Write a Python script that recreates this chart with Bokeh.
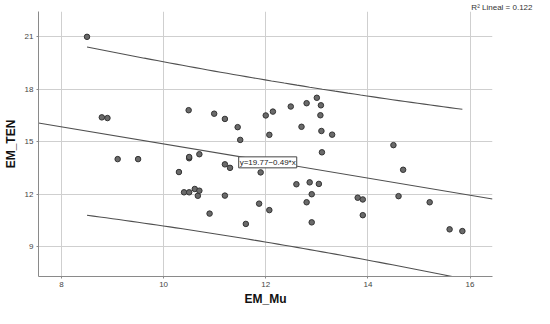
import numpy as np
from bokeh.plotting import figure
from bokeh.models import Label, FixedTicker, Range1d, Title
from bokeh.embed import file_html
from bokeh.resources import INLINE

# Data (EM_Mu vs EM_TEN)
em_mu = [8.50, 8.79, 8.90, 9.10, 9.50, 10.30, 10.40, 10.49, 10.50, 10.50,
         10.50, 10.61, 10.67, 10.70, 10.70, 10.90, 10.99, 11.20, 11.20, 11.20,
         11.30, 11.45, 11.50, 11.61, 11.87, 11.90, 12.00, 12.07, 12.07, 12.14,
         12.49, 12.60, 12.70, 12.80, 12.80, 12.86, 12.90, 12.90, 13.00, 13.04,
         13.07, 13.08, 13.09, 13.10, 13.30, 13.80, 13.90, 13.90, 14.50, 14.60,
         14.69, 15.21, 15.60, 15.85]
em_ten = [21.00, 16.39, 16.35, 14.00, 14.00, 13.26, 12.10, 16.80, 14.05, 14.12,
          12.10, 12.29, 11.90, 12.19, 14.28, 10.88, 16.60, 16.30, 13.70, 11.91,
          13.50, 15.83, 15.10, 10.29, 11.45, 13.24, 16.50, 15.39, 11.08, 16.72,
          17.01, 12.56, 15.85, 17.20, 11.53, 12.67, 11.99, 10.38, 17.51, 12.58,
          16.51, 17.08, 15.61, 14.39, 15.40, 11.79, 11.69, 10.79, 14.80, 11.88,
          13.39, 11.53, 9.98, 9.88]

fit_intercept = 19.77
fit_slope = -0.49
r2_text = "R\u00b2 Lineal = 0.122"
eq_text = "y=19.77\u22120.49*x"
x_ticks = [8, 10, 12, 14, 16]
y_ticks = [9, 12, 15, 18, 21]
t_crit = 2.0066  # 95%, df = n-2

x = np.array(em_mu)
y = np.array(em_ten)
n = len(x)
resid = y - (fit_intercept + fit_slope * x)
s = np.sqrt(np.sum(resid ** 2) / (n - 2))
xbar = x.mean()
sxx = np.sum((x - xbar) ** 2)

xmin, xmax = 7.55, 16.44
ymin, ymax = 7.28, 22.45

FONT = "Liberation Sans"

p = figure(width=534, height=308, output_backend="svg", toolbar_location=None,
           x_range=Range1d(xmin, xmax), y_range=Range1d(ymin, ymax),
           min_border_left=35, min_border_right=42, min_border_top=0,
           min_border_bottom=26)
p.outline_line_color = None
p.background_fill_color = "white"

# R^2 note in the top-right corner (outside the frame)
p.add_layout(Title(text=r2_text, align="right", offset=-40, standoff=0,
                   text_font=FONT, text_font_size="8px",
                   text_font_style="normal", text_color="#333333"), "above")

# grid
for g in (p.xgrid, p.ygrid):
    g.grid_line_color = "#cfcfcf"
    g.grid_line_width = 1
p.xaxis.ticker = FixedTicker(ticks=x_ticks)
p.yaxis.ticker = FixedTicker(ticks=y_ticks)
p.xgrid.ticker = FixedTicker(ticks=x_ticks)
p.ygrid.ticker = FixedTicker(ticks=y_ticks)

for ax in (p.xaxis, p.yaxis):
    ax.axis_line_color = "#8a8a8a"
    ax.axis_line_width = 1
    ax.major_tick_line_color = "#8a8a8a"
    ax.major_tick_out = 2
    ax.major_tick_in = 0
    ax.minor_tick_line_color = None
    ax.major_label_text_font = FONT
    ax.major_label_text_font_size = "8px"
    ax.major_label_text_color = "#444444"
    ax.axis_label_text_font = FONT
    ax.axis_label_text_font_size = "12px"
    ax.axis_label_text_font_style = "bold"
    ax.axis_label_text_color = "#111111"

p.xaxis.axis_label = "EM_Mu"
p.yaxis.axis_label = "EM_TEN"
p.xaxis.major_label_standoff = 3
p.xaxis.axis_label_standoff = 2
p.yaxis.major_label_standoff = 3
p.yaxis.axis_label_standoff = 4

# fit line across full x range
xl = np.array([xmin, xmax])
p.line(xl, fit_intercept + fit_slope * xl, line_color="#505050", line_width=1.1)

# 95% individual prediction interval over data range
xs = np.linspace(x.min(), x.max(), 60)
half = t_crit * s * np.sqrt(1 + 1 / n + (xs - xbar) ** 2 / sxx)
yhat = fit_intercept + fit_slope * xs
p.line(xs, yhat + half, line_color="#505050", line_width=1.1)
p.line(xs, yhat - half, line_color="#505050", line_width=1.1)

# points
p.scatter(em_mu, em_ten, size=5.5, fill_color="#6a6a6a", line_color="#333333",
          line_width=1)

# equation label
p.add_layout(Label(x=11.47, y=13.5, text=eq_text, text_font=FONT,
                   text_font_size="8px", text_color="#222222",
                   background_fill_color="white", border_line_color="#444444",
                   border_line_width=1, padding=1, text_baseline="bottom"))

open("out.html", "w").write(file_html(p, INLINE))
